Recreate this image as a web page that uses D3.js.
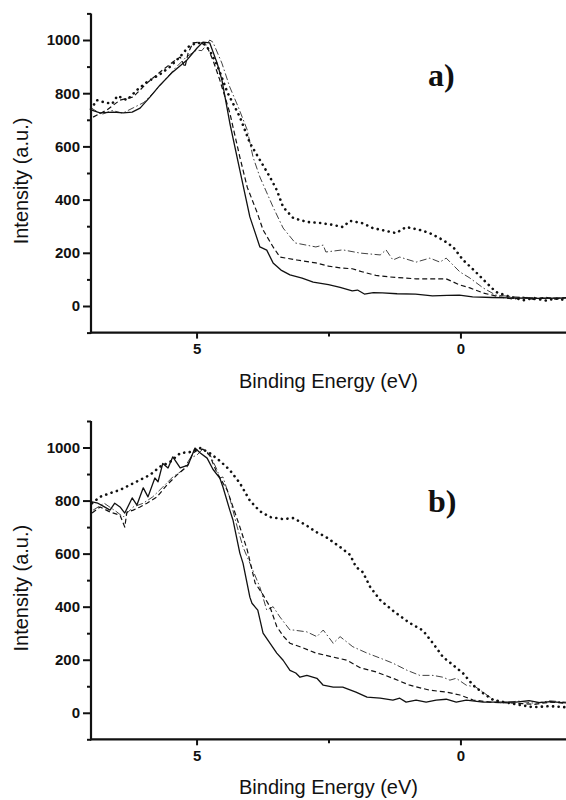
<!DOCTYPE html>
<html>
<head>
<meta charset="utf-8">
<script src="https://cdn.jsdelivr.net/npm/d3@7"></script>
<style>
  html, body { margin: 0; padding: 0; background: #fff; }
  svg { display: block; }
</style>
</head>
<body>
<svg id="chart" width="566" height="800"></svg>
<script>
// ---------- DATA (Binding energy eV, intensity a.u.) ----------
const xTicksMajor = [5, 0];
const xTicksMinor = [2.5];
const yTicksMajor = [0, 200, 400, 600, 800, 1000];
const yTicksMinor = [-100, 100, 300, 500, 700, 900, 1100];
const panelLabels = ["a)", "b)"];

// Panel a
const aSolid = [[7.0,737],[6.83,726],[6.58,729],[6.39,726],[6.22,729],[6.07,744],[5.88,786],[5.69,831],[5.45,880],[5.18,925],[4.99,970],[4.88,992],[4.75,989],[4.61,913],[4.52,850],[4.37,688],[4.18,511],[3.99,335],[3.80,222],[3.67,210],[3.55,162],[3.40,135],[3.23,117],[3.0,105],[2.79,90],[2.5,80],[2.28,70],[2.05,57],[1.95,60],[1.82,45],[1.65,50],[1.48,49],[1.2,46],[0.85,45],[0.53,38],[0.25,40],[0.02,41],[-0.23,34],[-0.6,32],[-1.05,30],[-1.5,29],[-2.0,30]];
const aDashed = [[6.96,710],[6.70,737],[6.45,774],[6.20,786],[5.94,838],[5.69,880],[5.45,917],[5.31,936],[5.22,898],[5.16,951],[5.07,989],[4.93,992],[4.80,974],[4.69,925],[4.56,850],[4.37,726],[4.18,560],[4.04,447],[3.85,350],[3.74,286],[3.55,222],[3.42,184],[3.10,173],[2.74,162],[2.5,150],[2.28,143],[2.05,140],[1.85,128],[1.6,115],[1.33,109],[0.84,102],[0.27,102],[0.01,79],[-0.18,68],[-0.43,49],[-0.75,34],[-1.0,26],[-1.2,33],[-1.4,24],[-1.6,33],[-1.8,26],[-2.0,32]];
const aDashDot = [[7.0,745],[6.8,720],[6.6,735],[6.4,725],[6.2,745],[6.0,765],[5.8,805],[5.6,850],[5.4,895],[5.2,935],[5.0,962],[4.9,960],[4.8,985],[4.75,1000],[4.69,992],[4.52,913],[4.37,823],[4.21,748],[4.04,662],[3.93,560],[3.80,485],[3.55,372],[3.36,293],[3.13,237],[2.74,222],[2.60,229],[2.55,203],[2.23,211],[1.90,199],[1.52,192],[1.41,211],[1.28,173],[1.15,184],[0.84,165],[0.58,180],[0.39,165],[0.27,180],[0.14,154],[0.01,128],[-0.18,105],[-0.43,68],[-0.67,41],[-1.05,34],[-1.5,30],[-2.0,30]];
const aDotted = [[7.0,740],[6.89,774],[6.77,767],[6.6,760],[6.5,790],[6.32,774],[6.13,812],[5.94,842],[5.7,870],[5.5,900],[5.3,940],[5.15,975],[5.0,990],[4.85,985],[4.75,960],[4.61,906],[4.42,805],[4.18,711],[3.99,613],[3.80,549],[3.61,485],[3.48,436],[3.36,372],[3.17,331],[2.91,316],[2.66,312],[2.42,305],[2.23,297],[2.09,320],[1.87,312],[1.66,293],[1.22,274],[1.03,297],[0.77,286],[0.58,274],[0.33,248],[0.14,222],[-0.05,173],[-0.29,128],[-0.48,90],[-0.67,53],[-0.94,34],[-1.2,22],[-1.4,30],[-1.6,20],[-1.8,28],[-2.0,22]];

// Panel b
const bSolid = [[6.98,795],[6.87,790],[6.77,779],[6.64,764],[6.55,790],[6.45,776],[6.36,753],[6.22,810],[6.13,783],[6.01,848],[5.92,814],[5.79,885],[5.73,871],[5.64,940],[5.54,923],[5.45,965],[5.31,923],[5.16,934],[5.03,998],[4.93,979],[4.80,960],[4.69,918],[4.56,885],[4.50,851],[4.37,764],[4.31,727],[4.18,602],[4.12,564],[3.99,436],[3.95,413],[3.84,387],[3.74,300],[3.48,225],[3.36,198],[3.23,160],[3.12,150],[3.04,134],[2.91,141],[2.72,130],[2.60,104],[2.41,97],[2.23,97],[1.98,78],[1.77,59],[1.52,55],[1.28,48],[1.15,55],[1.03,40],[0.84,48],[0.65,40],[0.46,48],[0.27,51],[0.08,40],[-0.11,48],[-0.43,40],[-1.05,40],[-1.3,46],[-1.5,38],[-1.7,42],[-2.0,37]];
const bDashed = [[6.98,753],[6.83,776],[6.64,757],[6.45,745],[6.36,700],[6.32,757],[6.20,764],[6.07,776],[5.94,790],[5.75,814],[5.56,859],[5.37,897],[5.18,928],[5.07,979],[4.97,991],[4.88,994],[4.75,970],[4.61,903],[4.42,840],[4.31,776],[4.18,701],[4.04,614],[3.89,489],[3.76,451],[3.61,400],[3.48,325],[3.36,290],[3.23,262],[3.04,249],[2.74,225],[2.41,210],[2.15,198],[1.90,170],[1.60,154],[1.28,130],[0.96,104],[0.58,85],[0.27,78],[0.01,67],[-0.24,48],[-0.56,40],[-1.05,36],[-1.4,32],[-1.7,40],[-2.0,36]];
const bDashDot = [[6.96,764],[6.75,790],[6.51,757],[6.39,738],[6.20,776],[6.01,790],[5.83,814],[5.64,851],[5.45,889],[5.26,915],[5.12,960],[4.99,972],[4.88,995],[4.75,975],[4.61,915],[4.56,885],[4.50,889],[4.37,809],[4.23,701],[4.12,625],[3.99,564],[3.80,474],[3.67,387],[3.55,400],[3.42,361],[3.23,312],[3.17,312],[2.91,305],[2.72,287],[2.60,312],[2.41,262],[2.28,287],[2.04,249],[1.77,225],[1.52,206],[1.28,187],[1.01,160],[0.77,141],[0.52,141],[0.33,134],[0.20,123],[0.08,130],[-0.11,104],[-0.29,97],[-0.56,59],[-0.75,37],[-1.1,44],[-1.4,36],[-1.7,45],[-2.0,40]];
const bDotted = [[6.98,790],[6.83,814],[6.64,828],[6.45,840],[6.26,859],[6.07,878],[5.88,897],[5.69,928],[5.50,946],[5.31,979],[5.12,983],[4.93,998],[4.75,979],[4.56,950],[4.37,915],[4.18,866],[3.99,800],[3.80,760],[3.61,738],[3.36,730],[3.17,734],[2.93,708],[2.74,682],[2.55,663],[2.28,625],[2.09,595],[1.98,550],[1.85,530],[1.71,474],[1.52,425],[1.28,385],[0.96,338],[0.71,310],[0.52,262],[0.33,210],[0.14,180],[-0.05,149],[-0.24,104],[-0.43,74],[-0.62,48],[-0.94,36],[-1.37,21],[-1.7,25],[-2.0,21]];

// ---------- LAYOUT ----------
const svg = d3.select("#chart");
const left = 91, right = 566;
const panels = [
  { top: 13.4, bottom: 332.6, label: panelLabels[0], series: [aSolid, aDashed, aDashDot, aDotted] },
  { top: 421,  bottom: 739.3, label: panelLabels[1], series: [bSolid, bDashed, bDashDot, bDotted] }
];
const styles = [
  { width: 1.3, dash: null, cap: "butt" },
  { width: 1.2, dash: "5 3", cap: "butt" },
  { width: 0.8, dash: "7 2.5 1.5 2.5", cap: "butt" },
  { width: 2.6, dash: "0.1 5.5", cap: "round" }
];

const x = d3.scaleLinear().domain([7, -2]).range([left, right]);

panels.forEach((p, i) => {
  const y = d3.scaleLinear().domain([-100, 1100]).range([p.bottom, p.top]);
  const g = svg.append("g");

  // curves
  const line = d3.line().x(d => x(d[0])).y(d => y(d[1]));
  p.series.forEach((s, k) => {
    const st = styles[k];
    g.append("path")
      .datum(s)
      .attr("d", line)
      .attr("fill", "none")
      .attr("stroke", "#111")
      .attr("stroke-width", st.width)
      .attr("stroke-linejoin", "round")
      .attr("stroke-linecap", st.cap)
      .attr("stroke-dasharray", st.dash);
  });

  // y axis (major)
  const yAxis = d3.axisLeft(y).tickValues(yTicksMajor).tickSize(8).tickPadding(3).tickFormat(d3.format("d"));
  const ya = g.append("g").attr("transform", `translate(${left},0)`).call(yAxis);
  ya.select(".domain").remove();
  ya.selectAll("line").attr("stroke", "#111").attr("stroke-width", 2);
  ya.selectAll("text").attr("font-family", "'Liberation Sans', Arial, sans-serif")
    .attr("font-size", 15).attr("font-weight", "bold").attr("fill", "#111");
  const yAxisMinor = d3.axisLeft(y).tickValues(yTicksMinor).tickSize(4).tickFormat("");
  const ym = g.append("g").attr("transform", `translate(${left},0)`).call(yAxisMinor);
  ym.select(".domain").remove();
  ym.selectAll("line").attr("stroke", "#111").attr("stroke-width", 2);

  // x axis
  const xAxis = d3.axisBottom(x).tickValues(xTicksMajor).tickSize(6).tickPadding(5).tickFormat(d3.format("d"));
  const xa = g.append("g").attr("transform", `translate(0,${p.bottom})`).call(xAxis);
  xa.select(".domain").remove();
  xa.selectAll("line").attr("stroke", "#111").attr("stroke-width", 2);
  xa.selectAll("text").attr("font-family", "'Liberation Sans', Arial, sans-serif")
    .attr("font-size", 15).attr("font-weight", "bold").attr("fill", "#111");
  const xAxisMinor = d3.axisBottom(x).tickValues(xTicksMinor).tickSize(4).tickFormat("");
  const xm = g.append("g").attr("transform", `translate(0,${p.bottom})`).call(xAxisMinor);
  xm.select(".domain").remove();
  xm.selectAll("line").attr("stroke", "#111").attr("stroke-width", 2);

  // axis lines
  g.append("line").attr("x1", left).attr("x2", left).attr("y1", p.top).attr("y2", p.bottom + 1)
    .attr("stroke", "#111").attr("stroke-width", 2.2);
  g.append("line").attr("x1", left - 1).attr("x2", right).attr("y1", p.bottom).attr("y2", p.bottom)
    .attr("stroke", "#111").attr("stroke-width", 2.2);

  // axis titles
  g.append("text")
    .attr("transform", `translate(28,${(p.top + p.bottom) / 2 + 8}) rotate(-90)`)
    .attr("text-anchor", "middle")
    .attr("font-family", "'Liberation Sans', Arial, sans-serif")
    .attr("font-size", 20).attr("fill", "#111")
    .text("Intensity (a.u.)");
  g.append("text")
    .attr("x", (left + right) / 2).attr("y", p.bottom + 55)
    .attr("text-anchor", "middle")
    .attr("font-family", "'Liberation Sans', Arial, sans-serif")
    .attr("font-size", 20).attr("fill", "#111")
    .text("Binding Energy (eV)");

  // panel label
  g.append("text")
    .attr("x", 428).attr("y", i === 0 ? 86 : 511.5)
    .attr("font-family", "'Liberation Serif', 'Times New Roman', serif")
    .attr("font-size", 32).attr("font-weight", "bold").attr("fill", "#111")
    .text(p.label);
});
</script>
</body>
</html>
